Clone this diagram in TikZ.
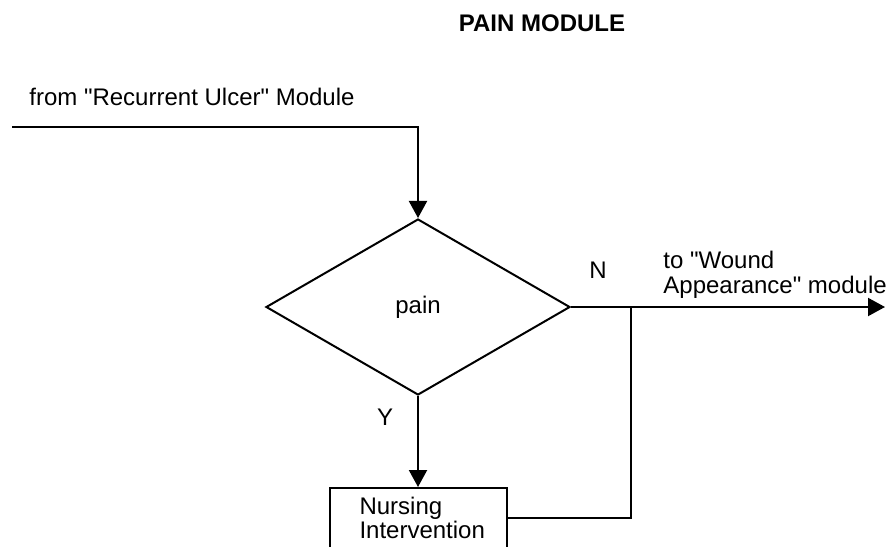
\documentclass[tikz,border=0pt]{standalone}
\usepackage{fontspec}
\setmainfont{Liberation Sans}
\usetikzlibrary{arrows.meta,positioning,shapes.geometric}

\begin{document}
\begin{tikzpicture}[
  x=0.5pt, y=-0.5pt,
  decision/.style={diamond, draw, line width=1pt, inner sep=0pt,
    minimum width=152pt, minimum height=88pt, font=\fontsize{12}{14}\selectfont},
  stepbox/.style={rectangle, draw, line width=1pt, align=left,
    text width=58.5pt, inner xsep=15pt, inner ysep=4.5pt, text depth=24pt,
    font=\fontsize{12}{11}\selectfont},
  lbl/.style={inner sep=0pt, font=\fontsize{12}{12.5}\selectfont},
  arr/.style={-{Triangle[length=8.5pt,width=9pt]}, line width=1pt},
  line/.style={line width=1pt}
]
  \clip (0,0) rectangle (887,546);

  % title and entry text
  \node[lbl, anchor=base, font=\bfseries\fontsize{12}{14}\selectfont] (title) at (542,32) {PAIN MODULE};
  \node[lbl, anchor=base west] (from) at (29,105) {from \textquotedbl Recurrent Ulcer\textquotedbl{} Module};

  % blocks
  \node[decision] (pain) at (418,307) {pain};
  \node[stepbox, anchor=north] (nurse) at (418,487) {Nursing\\Intervention};

  \coordinate (start) at (12,127);
  \coordinate (exit) at (885,307);
  \coordinate (merge) at (631,307);
  \coordinate (back) at (631,518);

  % labels
  \node[lbl] (no) at (598,270) {N};
  \node[lbl] (yes) at (385,417) {Y};
  \node[lbl, anchor=north west, align=left] (to) at (663,251) {to \textquotedbl Wound\\Appearance\textquotedbl{} module};

  % connectors
  \draw[arr] (start) -| (pain);
  \draw[arr] (pain) -- (exit);
  \draw[arr] (pain) -- (nurse);
  \draw[line] (back -| nurse.east) -- (back) -- (merge);
\end{tikzpicture}
\end{document}
